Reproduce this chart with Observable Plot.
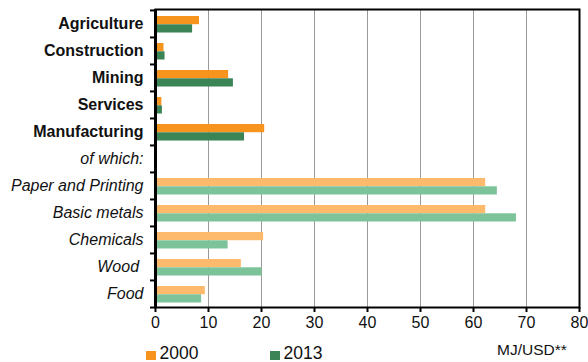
<!DOCTYPE html>
<html>
<head>
<meta charset="utf-8">
<script src="https://cdn.jsdelivr.net/npm/d3@7"></script>
<script src="https://cdn.jsdelivr.net/npm/@observablehq/plot@0.6"></script>
<style>
  body { margin: 0; background: #fff; }
  #wrap { position: relative; width: 588px; height: 362px; font-family: "Liberation Sans", Arial, sans-serif; color: #111; }
  #wrap svg { position: absolute; left: 0; top: 0; }
  .leg { position: absolute; top: 343px; font-size: 17.5px; line-height: 20px; display: flex; align-items: center; }
  .sw { width: 9.5px; height: 9.5px; display: inline-block; margin-right: 4px; margin-top: 5px; }
  #unit { position: absolute; left: 497px; top: 341px; font-size: 15.5px; }
</style>
</head>
<body>
<div id="wrap"></div>
<script>
const categories = ["Agriculture","Construction","Mining","Services","Manufacturing","of which:","Paper and Printing","Basic metals","Chemicals","Wood","Food"];
const boldCategories = ["Agriculture","Construction","Mining","Services","Manufacturing"];
const italicCategories = ["of which:","Paper and Printing","Basic metals","Chemicals","Wood","Food"];
const subIndustries = ["Paper and Printing","Basic metals","Chemicals","Wood","Food"];
const values2000 = [8.3, 1.6, 13.8, 1.2, 20.6, null, 62.3, 62.3, 20.4, 16.2, 9.4];
const values2013 = [7.0, 1.8, 14.7, 1.3, 16.8, null, 64.5, 68.1, 13.7, 20.1, 8.7];
const xTicks = [0, 10, 20, 30, 40, 50, 60, 70, 80];
const gridTicks = [10, 20, 30, 40, 50, 60, 70];
const seriesNames = ["2000", "2013"];
const colors = {
  "2000": {dark: "#F7941D", light: "#FDB96C"},
  "2013": {dark: "#3B8456", light: "#7CC399"}
};

const rows2000 = categories.map((c, i) => ({category: c, value: values2000[i], sub: subIndustries.includes(c)})).filter(d => d.value != null);
const rows2013 = categories.map((c, i) => ({category: c, value: values2013[i], sub: subIndustries.includes(c)})).filter(d => d.value != null);

const W = 588, H = 362, mt = 9, mb = 55, ml = 155, mr = 9;
const bw = (H - mt - mb) / categories.length;
const font = "'Liberation Sans', Arial, sans-serif";

const chart = Plot.plot({
  width: W, height: H,
  marginTop: mt, marginBottom: mb, marginLeft: ml, marginRight: mr,
  style: {fontFamily: font, background: "transparent", color: "#111"},
  x: {domain: [0, 80], label: null},
  y: {domain: categories, padding: 0, label: null},
  marks: [
    Plot.gridX(gridTicks, {stroke: "#9a9a9a", strokeOpacity: 1, strokeWidth: 1}),
    Plot.barX(rows2000, {y: "category", x: "value", fill: d => d.sub ? colors["2000"].light : colors["2000"].dark, insetTop: 6, insetBottom: bw - 14.3}),
    Plot.barX(rows2013, {y: "category", x: "value", fill: d => d.sub ? colors["2013"].light : colors["2013"].dark, insetTop: 14.3, insetBottom: 4.5}),
    Plot.frame({stroke: "#000", strokeWidth: 2}),
    Plot.ruleX([0], {stroke: "#000", strokeWidth: 3}),
    Plot.axisX({ticks: xTicks, tickSize: 5, tickPadding: 4, fontSize: 16, label: null, strokeWidth: 2, stroke: "#000"}),
    Plot.axisY({ticks: categories, tickSize: 5, text: null, label: null, dy: -bw / 2, strokeWidth: 2, stroke: "#000"}),
    Plot.axisY({ticks: [categories[categories.length - 1]], tickSize: 5, text: null, label: null, dy: bw / 2, strokeWidth: 2, stroke: "#000"}),
    Plot.axisY({ticks: boldCategories, tickSize: 0, tickPadding: 12, fontSize: 16, fontWeight: "bold", label: null}),
    Plot.axisY({ticks: italicCategories, tickSize: 0, tickPadding: 12, fontSize: 16, fontStyle: "italic", label: null,
      tickFormat: d => d === "Wood" ? "Wood\u00a0" : d})
  ]
});

const wrap = document.getElementById("wrap");
wrap.appendChild(chart);

const legendX = [146, 270];
seriesNames.forEach((name, i) => {
  const item = document.createElement("div");
  item.className = "leg";
  item.style.left = legendX[i] + "px";
  item.innerHTML = `<span class="sw" style="background:${colors[name].dark}"></span><span>${name}</span>`;
  wrap.appendChild(item);
});
const unit = document.createElement("div");
unit.id = "unit";
unit.textContent = "MJ/USD**";
wrap.appendChild(unit);
</script>
</body>
</html>
